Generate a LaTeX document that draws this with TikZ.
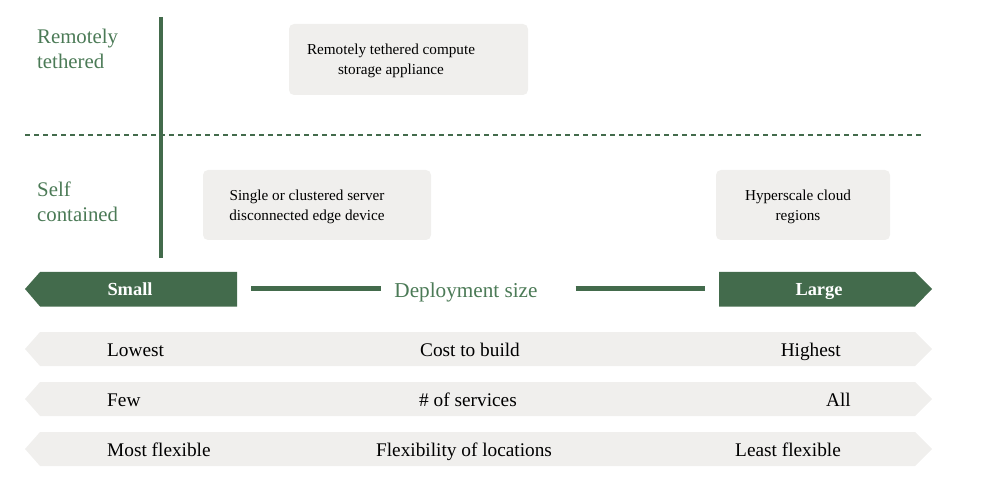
\documentclass[tikz,border=0pt]{standalone}
\usepackage{fontspec}
\setmainfont{Liberation Serif}
\definecolor{dgreen}{HTML}{436B4C}
\definecolor{tgreen}{HTML}{4B7A56}
\definecolor{lgray}{HTML}{F0EFED}
\begin{document}
\begin{tikzpicture}[x=1pt,y=-1pt,
  box/.style={fill=lgray, rounded corners=5pt, inner sep=0pt},
  boxtext/.style={align=center, font=\fontsize{15.2}{20}\selectfont, inner sep=0pt},
  sidetext/.style={align=left, anchor=west, text=tgreen, font=\fontsize{20.8}{25}\selectfont, inner sep=0pt},
  rowtext/.style={font=\fontsize{19.3}{22}\selectfont, inner sep=0pt},
  endtext/.style={font=\fontsize{18.4}{22}\selectfont\bfseries, text=white, inner sep=0pt, anchor=base},
  bar/.style={dgreen, line width=5pt}]
\useasboundingbox (0,0) rectangle (1000,502);
% dashed separator and axis
\draw[dgreen, line width=2pt, dash pattern=on 5pt off 4pt] (25,135) -- (923,135);
\draw[dgreen, line width=4pt] (161,17) -- (161,258);
% side labels
\node[sidetext] (rt) at (37,48.5) {Remotely\\tethered};
\node[sidetext] (sc) at (37,201.5) {Self\\contained};
% boxes
\node[box, minimum width=239pt, minimum height=71pt] (b1) at (408.5,59.5) {};
\node[boxtext] (t1) at (391,60.5) {Remotely tethered compute\\storage appliance};
\node[box, minimum width=228pt, minimum height=70pt] (b2) at (317,205) {};
\node[boxtext] (t2) at (307,206.5) {Single or clustered server\\disconnected edge device};
\node[box, minimum width=174pt, minimum height=70pt] (b3) at (803,205) {};
\node[boxtext] (t3) at (798,207) {Hyperscale cloud\\regions};
% size arrows
\fill[dgreen] (25,289) -- (40,272) -- (237,272) -- (237,306.5) -- (40,306.5) -- cycle;
\fill[dgreen] (719,272) -- (915,272) -- (932,289) -- (915,306.5) -- (719,306.5) -- cycle;
\coordinate (smallend) at (237,289);
\coordinate (largeend) at (719,289);
\node[endtext] (small) at (130,295) {Small};
\node[endtext] (large) at (819,295) {Large};
\node[text=tgreen, font=\fontsize{21.2}{24}\selectfont, inner sep=0pt, anchor=base] (dep) at (466,297.5) {Deployment size};
\coordinate (dl) at (dep.west |- smallend);
\coordinate (dr) at (dep.east |- largeend);
\draw[bar] ([xshift=14pt]smallend) -- ([xshift=-13pt]dl);
\draw[bar] ([xshift=38pt]dr) -- ([xshift=-14pt]largeend);
% rows
\foreach \y in {349,399,449}{
  \fill[lgray] (25,\y) -- (40,\y-17) -- (915,\y-17) -- (932,\y) -- (915,\y+17) -- (40,\y+17) -- cycle;
}
\node[rowtext, anchor=base west] (r1l) at (107,356.5) {Lowest};
\node[rowtext, anchor=base] (r1c) at (470,356.5) {Cost to build};
\node[rowtext, anchor=base east] (r1r) at (841,356.5) {Highest};
\node[rowtext, anchor=base west] (r2l) at (107,406.5) {Few};
\node[rowtext, anchor=base] (r2c) at (468,406.5) {\# of services};
\node[rowtext, anchor=base east] (r2r) at (851,406.5) {All};
\node[rowtext, anchor=base west] (r3l) at (107,456.5) {Most flexible};
\node[rowtext, anchor=base] (r3c) at (464,456.5) {Flexibility of locations};
\node[rowtext, anchor=base east] (r3r) at (841,456.5) {Least flexible};
\end{tikzpicture}
\end{document}
